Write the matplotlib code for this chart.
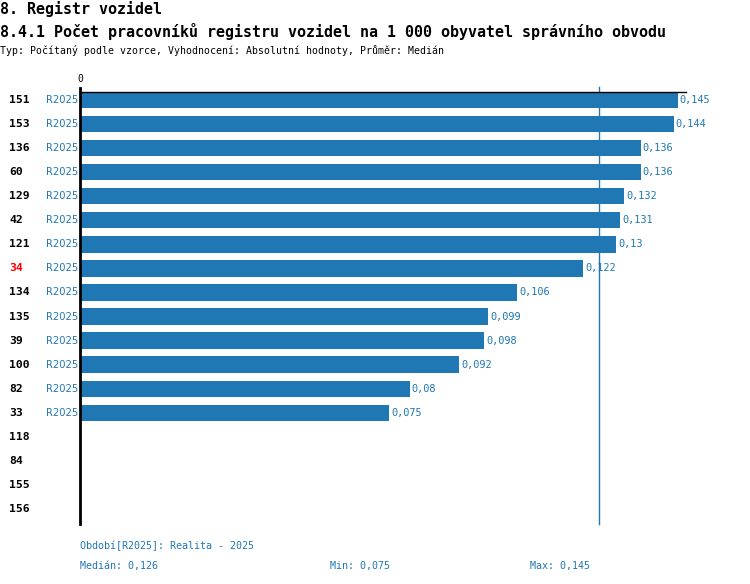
import matplotlib
matplotlib.use("Agg")
import matplotlib.pyplot as plt

plt.rcParams["font.family"] = ["DejaVu Sans Mono"]

BLUE = "#1f77b4"

row_ids = ["151", "153", "136", "60", "129", "42", "121", "34", "134",
           "135", "39", "100", "82", "33", "118", "84", "155", "156"]
values = [0.145, 0.144, 0.136, 0.136, 0.132, 0.131, 0.13, 0.122,
          0.106, 0.099, 0.098, 0.092, 0.08, 0.075]
value_labels = ["0,145", "0,144", "0,136", "0,136", "0,132", "0,131", "0,13",
                "0,122", "0,106", "0,099", "0,098", "0,092", "0,08", "0,075"]
highlight = "34"
period = "R2025"
median = 0.126
median_label = "0,126"
min_label = "0,075"
max_label = "0,145"

W, H = 750, 584
fig = plt.figure(figsize=(W / 100, H / 100), dpi=100)
ax = fig.add_axes([80 / W, 1 - 524 / H, (686 - 80) / W, (524 - 92) / H])
px = 0.147 / (686 - 80)  # data units per pixel

ys = list(range(len(values)))
ax.barh(ys, values, height=0.68, color=BLUE, zorder=2)
ax.set_ylim(len(row_ids) - 0.38, -0.33)
ax.set_xlim(0, 0.147)

for y, v, lab in zip(ys, values, value_labels):
    ax.text(v + 2 * px, y, lab, va="center", ha="left", fontsize=7.4, color=BLUE)

for i, rid in enumerate(row_ids):
    ax.text(-71 * px, i, rid, va="center", ha="left", fontsize=8.2,
            fontweight="bold", color="red" if rid == highlight else "black")
    if i < len(values):
        ax.text(-2 * px, i, period, va="center", ha="right", fontsize=7.2,
                color=BLUE, family=["DejaVu Sans"])

# median line
ax.plot([median, median], [len(row_ids) - 0.38, -0.55], color=BLUE, lw=1,
        clip_on=False, zorder=1)

for s in ["right", "bottom"]:
    ax.spines[s].set_visible(False)
ax.spines["left"].set_linewidth(2)
ax.spines["left"].set_bounds(len(row_ids) - 0.38, -0.5)
ax.spines["top"].set_linewidth(1)
ax.set_xticks([])
ax.set_yticks([])
ax.text(0, -0.65, "0", ha="center", va="bottom", fontsize=7, clip_on=False)

fig.text(0, 1 - 9 / H, "8. Registr vozidel", fontsize=10.8,
         fontweight="bold", va="center", ha="left")
fig.text(0, 1 - 31 / H,
         "8.4.1 Počet pracovníků registru vozidel na 1 000 obyvatel správního obvodu",
         fontsize=10.8, fontweight="bold", va="center", ha="left")
fig.text(0, 1 - 50 / H,
         "Typ: Počítaný podle vzorce, Vyhodnocení: Absolutní hodnoty, Průměr: Medián",
         fontsize=7.1, va="center", ha="left")

fig.text(80 / W, 1 - 546 / H, "Období[R2025]: Realita - 2025", fontsize=7.2,
         color=BLUE, va="center", ha="left")
fig.text(80 / W, 1 - 566 / H, f"Medián: {median_label}", fontsize=7.2,
         color=BLUE, va="center", ha="left")
fig.text(330 / W, 1 - 566 / H, f"Min: {min_label}", fontsize=7.2,
         color=BLUE, va="center", ha="left")
fig.text(530 / W, 1 - 566 / H, f"Max: {max_label}", fontsize=7.2,
         color=BLUE, va="center", ha="left")

fig.savefig("out.png", dpi=100)
